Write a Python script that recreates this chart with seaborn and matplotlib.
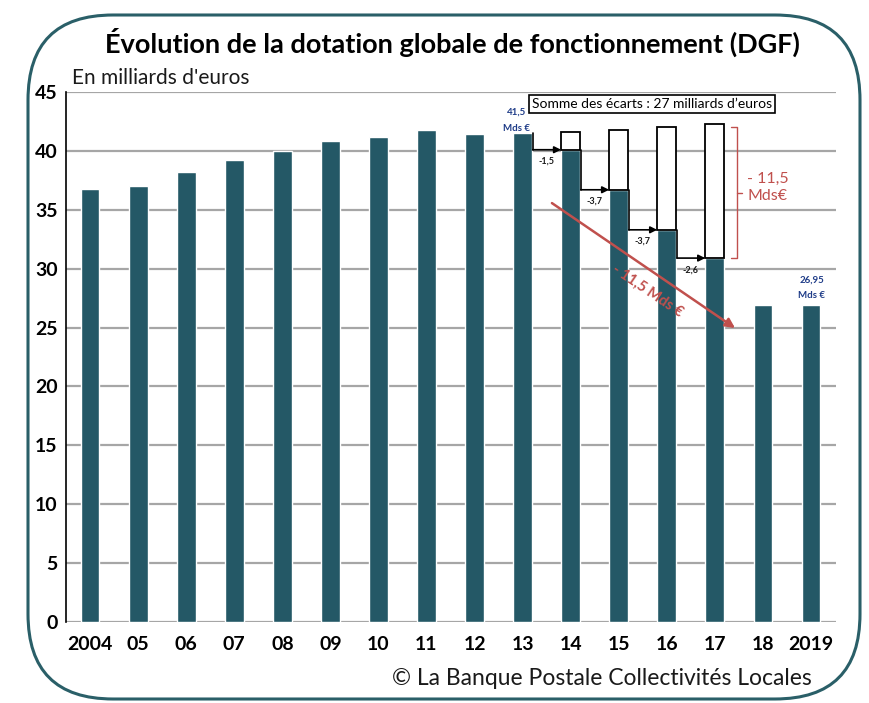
import matplotlib
matplotlib.use("Agg")
import matplotlib.pyplot as plt
import seaborn as sns
from matplotlib.patches import FancyBboxPatch

years = ['2004', '05', '06', '07', '08', '09', '10', '11', '12', '13',
         '14', '15', '16', '17', '18', '2019']
dgf = [36.75, 37.0, 38.2, 39.2, 40.0, 40.8, 41.2, 41.8, 41.4, 41.5,
       40.1, 36.7, 33.3, 30.9, 26.95, 26.95]
# counterfactual tops (outlined boxes) for 2014-2017
box_years = ['14', '15', '16', '17']
box_tops = [41.6, 41.8, 42.0, 42.3]
step_labels = ['-1,5', '-3,7', '-3,7', '-2,6']

bar_col = '#245866'
red = '#c0504d'
blue = '#1f3c88'

sns.set_theme(style='white')
plt.rcParams['font.family'] = ['Lato', 'DejaVu Sans']

fig = plt.figure(figsize=(8.69, 7.03), dpi=100)
ax = fig.add_axes([0.076, 0.1152, 0.886, 0.7539])

sns.barplot(x=years, y=dgf, color=bar_col, width=0.39, saturation=1, ax=ax, zorder=3)

# outlined boxes above 2014-2017 bars
idx = [years.index(y) for y in box_years]
bottoms = [dgf[i] for i in idx]
heights = [t - b for t, b in zip(box_tops, bottoms)]
ax.bar(idx, heights, bottom=bottoms, width=0.39, facecolor='white',
       edgecolor='black', linewidth=1.3, zorder=3)

# step arrows 2013 -> 2017
for k, lab in enumerate(step_labels):
    i = years.index('13') + k
    xs = i + 0.22
    ax.plot([xs, xs], [dgf[i], dgf[i + 1]], color='black', lw=1.2, zorder=4)
    ax.annotate('', xy=(i + 1 - 0.2, dgf[i + 1]), xytext=(xs - 0.01, dgf[i + 1]),
                arrowprops=dict(arrowstyle='-|>', color='black', lw=1.2,
                                mutation_scale=10, shrinkA=0, shrinkB=0), zorder=4)
    ax.text(i + 0.5, dgf[i + 1] - 1.0, lab, ha='center', va='center',
            fontsize=6.5, fontweight='bold', color='#1a1a1a', zorder=5)

# red diagonal arrow
ax.annotate('', xy=(13.42, 24.96), xytext=(9.61, 35.57),
            arrowprops=dict(arrowstyle='-|>', color=red, lw=1.8,
                            mutation_scale=14, shrinkA=0, shrinkB=0), zorder=6)
ax.text(11.6, 28.1, '- 11,5 Mds €', color=red, fontsize=10.5, fontweight='bold',
        rotation=-34, rotation_mode='anchor', ha='center', va='center', zorder=6)

# red bracket
bx = 13.46
ax.plot([bx - 0.12, bx, bx, bx - 0.12], [42.0, 42.0, 30.9, 30.9], color=red, lw=1.0, zorder=4)
ax.plot([bx, bx + 0.1], [36.45, 36.45], color=red, lw=1.0, zorder=4)
ax.text(14.1, 36.9, '- 11,5\nMds€', color=red, fontsize=11.5, ha='center', va='center',
        linespacing=1.3)

# value labels
ax.text(8.88, 42.6, '41,5\nMds €', color=blue, fontsize=7, fontweight='bold',
        ha='center', va='center', linespacing=2.0)
ax.text(15.02, 28.4, '26,95\nMds €', color=blue, fontsize=7, fontweight='bold',
        ha='center', va='center', linespacing=1.9)

ax.text(11.69, 43.97, "Somme des écarts : 27 milliards d’euros", fontsize=10,
        ha='center', va='center', color='black', zorder=6,
        bbox=dict(boxstyle='square,pad=0.2', facecolor='white', edgecolor='black', lw=1.2))

ax.set_xlim(-0.5, 15.52)
ax.set_ylim(0, 45)
ax.set_yticks(range(0, 46, 5))
ax.yaxis.grid(True, color='#a6a6a6', lw=1.6, zorder=0)
ax.set_axisbelow(True)
for s in ['top', 'right', 'bottom']:
    ax.spines[s].set_visible(False)
ax.spines['left'].set_color('black')
ax.spines['left'].set_linewidth(1.2)
ax.tick_params(axis='y', length=0, pad=6)
ax.tick_params(axis='x', length=0, pad=10)
ax.set_xlabel('')
ax.set_ylabel('')
for lab in ax.get_xticklabels() + ax.get_yticklabels():
    lab.set_fontweight('bold')
    lab.set_fontsize(14)
    lab.set_color('black')

fig.text(0.5203, 0.940, 'Évolution de la dotation globale de fonctionnement (DGF)',
         ha='center', va='center', fontsize=19.5, fontweight='bold', color='black')
fig.text(0.083, 0.889, "En milliards d'euros", ha='left', va='center', fontsize=15, color='#1a1a1a')
fig.text(0.934, 0.0355, '© La Banque Postale Collectivités Locales', ha='right', va='center',
         fontsize=16.5, color='#1a1a1a')

# rounded frame in pixel coordinates
frame = FancyBboxPatch((28, 4), 832, 684, boxstyle='round,pad=0,rounding_size=85',
                       transform=None, facecolor='none', edgecolor='#2a5f68', lw=2.2)
fig.patches.append(frame)

fig.savefig('out.png', dpi=100)
